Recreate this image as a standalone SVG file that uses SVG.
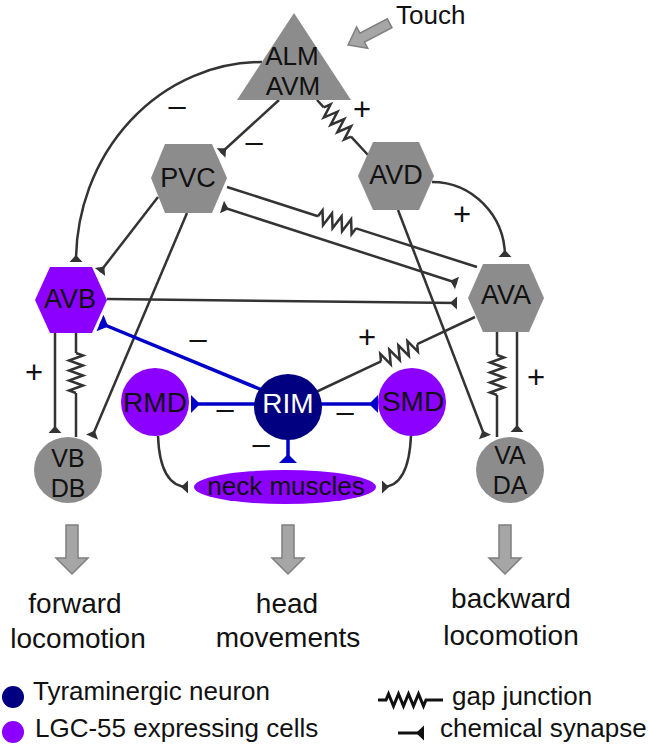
<svg xmlns="http://www.w3.org/2000/svg" xmlns:xlink="http://www.w3.org/1999/xlink" width="651" height="745" viewBox="0 0 651 745">
<style>
text{font-family:"Liberation Sans",Arial,sans-serif;fill:#111}
.ln{stroke:#333;stroke-width:2.5;fill:none}
.bl{stroke:#0000c8;stroke-width:3.5;fill:none}
.gray{fill:#8c8c8c}
.pur{fill:#8b00ff}
.navy{fill:#000080}
.blk{fill:#a6a6a6;stroke:#7f7f7f;stroke-width:1.5}
.nm{font-size:26px;text-anchor:middle}
.sg{font-size:31px;text-anchor:middle}
.big{font-size:28px;text-anchor:middle}
.leg{font-size:26px}
</style>
<defs>
<marker id="syn" markerUnits="userSpaceOnUse" viewBox="-8 -7 9 14" refX="0" refY="0" markerWidth="9" markerHeight="14" orient="auto-start-reverse"><path d="M0,-6.5 L0,6.5 L-7,0Z" fill="#333"/></marker>
<marker id="bsyn" markerUnits="userSpaceOnUse" viewBox="-10 -10 11 20" refX="0" refY="0" markerWidth="11" markerHeight="20" orient="auto"><path d="M0,-9 L0,9 L-9,0Z" fill="#0000c8"/></marker>
<marker id="ksyn" markerUnits="userSpaceOnUse" viewBox="-9 -8 10 16" refX="0" refY="0" markerWidth="10" markerHeight="16" orient="auto"><path d="M0,-7.5 L0,7.5 L-8,0Z" fill="#111"/></marker>
<path id="zz" d="M0,0 L2.5,-7 L7.5,7 L12.5,-7 L17.5,7 L22.5,-7 L27.5,7 L32.5,-7 L37.5,7 L40,0" stroke="#333" stroke-width="2.5" fill="none" stroke-linejoin="miter"/>
</defs>

<g id="connectors">
<path class="ln" d="M262,62 A186,200 0 0 0 76,262" marker-end="url(#syn)"/>
<path class="ln" d="M279,100 L221,153" marker-end="url(#syn)"/>
<path class="ln" d="M317,100 L323.8,107.3 M351,136.7 L368,155"/>
<use href="#zz" xlink:href="#zz" transform="translate(323.8,107.3) rotate(47.2)"/>
<path class="ln" d="M158,197 L100,272" marker-end="url(#syn)"/>
<path class="ln" d="M187,213 L92,437" marker-end="url(#syn)"/>
<path class="ln" d="M227,187 L318,216.2 M356.1,228.4 L477,267"/>
<use href="#zz" xlink:href="#zz" transform="translate(318,216.2) rotate(17.7)"/>
<path class="ln" d="M222,207 L457,283" marker-start="url(#syn)" marker-end="url(#syn)"/>
<path class="ln" d="M107,299 L457,303" marker-end="url(#syn)"/>
<path class="ln" d="M432,182 A73,75 0 0 1 505,257" marker-end="url(#syn)"/>
<path class="ln" d="M398,210 L485,437" marker-end="url(#syn)"/>
<path class="ln" d="M55,333 L55,433" marker-end="url(#syn)"/>
<path class="ln" d="M76,333 L76,353 M76,393 L76,437"/>
<use href="#zz" xlink:href="#zz" transform="translate(76,353) rotate(90)"/>
<path class="ln" d="M517,332 L517,432" marker-end="url(#syn)"/>
<path class="ln" d="M497,332 L497,355 M497,395 L497,437"/>
<use href="#zz" xlink:href="#zz" transform="translate(497,355) rotate(90)"/>
<path class="ln" d="M316,392 L381,361.3 M417.2,344.2 L475,317"/>
<use href="#zz" xlink:href="#zz" transform="translate(381,361.3) rotate(-25.2)"/>
<path class="bl" d="M262,390 L100,323" marker-end="url(#bsyn)"/>
<path class="bl" d="M256,404 L191,404" marker-end="url(#bsyn)"/>
<path class="bl" d="M320,404 L378,404" marker-end="url(#bsyn)"/>
<path class="bl" d="M288,438 L288,463" marker-end="url(#bsyn)"/>
<path class="ln" d="M158,436 Q160,487 188,487" marker-end="url(#syn)"/>
<path class="ln" d="M411,435 Q409,487 382,487" marker-end="url(#syn)"/>
</g>

<g id="signs">
<text class="sg" x="177" y="116">–</text>
<text class="sg" x="254" y="152">–</text>
<text class="sg" x="362" y="120">+</text>
<text class="sg" x="462" y="225">+</text>
<text class="sg" x="198" y="349">–</text>
<text class="sg" x="367" y="348">+</text>
<text class="sg" x="225" y="419">–</text>
<text class="sg" x="345" y="422">–</text>
<text class="sg" x="261" y="454">–</text>
<text class="sg" x="34" y="383">+</text>
<text class="sg" x="536" y="388">+</text>
</g>

<g id="touch">
<polygon class="blk" transform="translate(348,45) rotate(-27.6)" points="0,0 16,-12 16,-5 47,-5 47,5 16,5 16,12"/>
<text class="leg" x="396" y="24">Touch</text>
</g>

<g id="ALM_AVM">
<polygon class="gray" points="294,13 237,100 351,100"/>
<text class="nm" x="292" y="65" style="font-size:26px">ALM</text>
<text class="nm" x="293" y="95" style="font-size:26px">AVM</text>
</g>

<g id="PVC">
<polygon class="gray" points="151,178 165,144 212,144 227,178 212,213 165,213"/>
<text class="nm" x="188" y="187" style="font-size:27px">PVC</text>
</g>

<g id="AVD">
<polygon class="gray" points="358,176 373,142 419,142 434,176 419,210 373,210"/>
<text class="nm" x="396" y="184" style="font-size:27px">AVD</text>
</g>

<g id="AVB">
<polygon class="pur" points="35,300 50,267 92,267 107,300 92,333 50,333"/>
<text class="nm" x="70" y="308" style="font-size:27px">AVB</text>
</g>

<g id="AVA">
<polygon class="gray" points="468,298 483,264 529,264 544,298 529,332 483,332"/>
<text class="nm" x="506" y="304" style="font-size:27px">AVA</text>
</g>

<g id="RMD">
<circle class="pur" cx="155" cy="402" r="34"/>
<text class="nm" x="155" y="412" style="font-size:28px">RMD</text>
</g>

<g id="RIM">
<ellipse class="navy" cx="288" cy="407" rx="34" ry="33"/>
<text class="nm" x="288" y="413" style="font-size:28px;fill:#fff">RIM</text>
</g>

<g id="SMD">
<circle class="pur" cx="412" cy="402" r="34"/>
<text class="nm" x="413" y="411" style="font-size:28px">SMD</text>
</g>

<g id="VB_DB">
<ellipse class="gray" cx="68" cy="470" rx="34" ry="33"/>
<text class="nm" x="68" y="467" style="font-size:25px">VB</text>
<text class="nm" x="68" y="497" style="font-size:25px">DB</text>
</g>

<g id="VA_DA">
<ellipse class="gray" cx="510" cy="470" rx="34" ry="33"/>
<text class="nm" x="510" y="464" style="font-size:25px">VA</text>
<text class="nm" x="510" y="494" style="font-size:25px">DA</text>
</g>

<g id="neck_muscles">
<ellipse class="pur" cx="285" cy="487" rx="91" ry="17"/>
<text class="nm" x="286" y="495" style="font-size:26px">neck muscles</text>
</g>

<g id="outputs">
<polygon class="blk" points="66,525 78,525 78,558 88,558 72,574 56,558 66,558"/>
<polygon class="blk" points="282,525 294,525 294,558 304,558 288,574 272,558 282,558"/>
<polygon class="blk" points="499,525 511,525 511,558 521,558 505,574 489,558 499,558"/>
<text class="big" x="75" y="613">forward</text>
<text class="big" x="78" y="648">locomotion</text>
<text class="big" x="287" y="613">head</text>
<text class="big" x="288" y="647">movements</text>
<text class="big" x="511" y="608">backward</text>
<text class="big" x="511" y="645">locomotion</text>
</g>

<g id="legend">
<circle class="navy" cx="13" cy="697" r="11"/>
<text class="leg" x="33" y="700">Tyraminergic neuron</text>
<circle class="pur" cx="13" cy="732" r="11"/>
<text class="leg" x="35" y="737">LGC-55 expressing cells</text>
<path d="M378,700 L386,700 L388.5,694 L393.5,706 L398.5,694 L403.5,706 L408.5,694 L413.5,706 L418.5,694 L423.5,706 L426,700 L443,700" stroke="#111" stroke-width="3" fill="none"/>
<text class="leg" x="452" y="705">gap junction</text>
<path d="M398,733 L424,733" stroke="#111" stroke-width="3" fill="none" marker-end="url(#ksyn)"/>
<text class="leg" x="440" y="737">chemical synapse</text>
</g>
</svg>
